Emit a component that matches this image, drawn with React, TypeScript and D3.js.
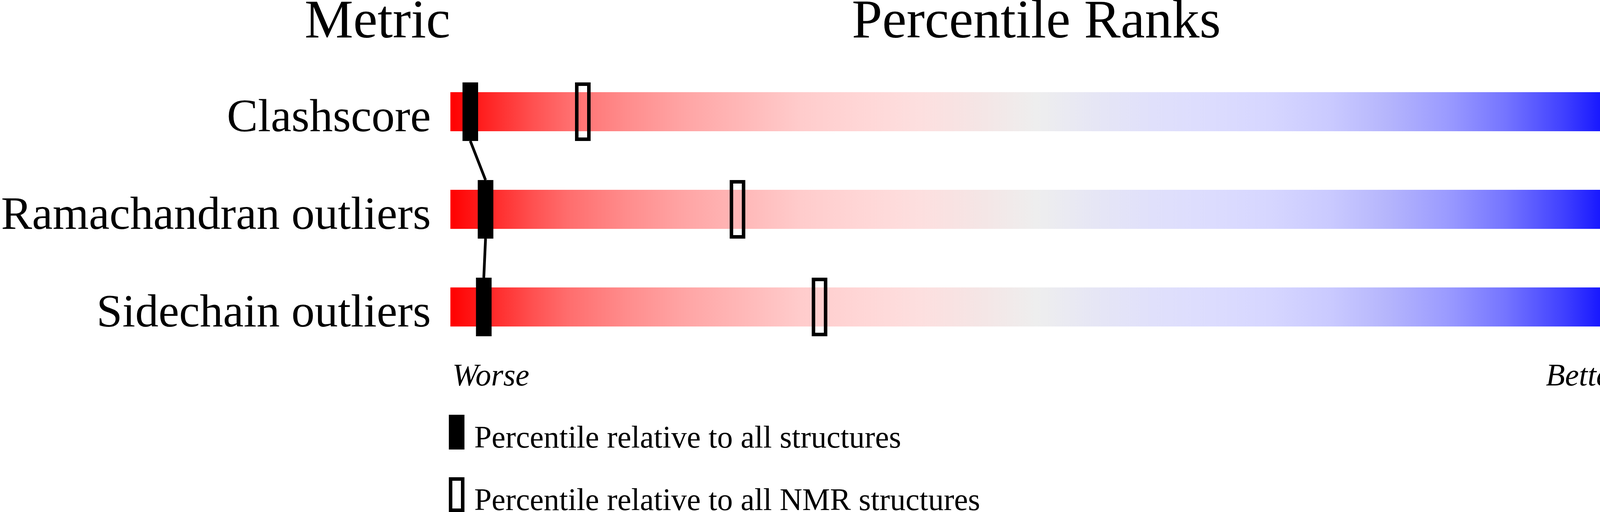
import React, { useEffect, useRef } from 'react';
import * as d3 from 'd3';

// Metrics shown in the slider
const metrics = ['Clashscore', 'Ramachandran outliers', 'Sidechain outliers'];
// Percentile relative to all structures (filled marker)
const percentileAll = [1.7, 3.0, 2.85];
// Percentile relative to all NMR structures (open marker)
const percentileNmr = [11.3, 24.5, 31.5];
// Raw values printed to the right
const valueLabels = ['54', '4.9%', '20.9%'];

const headers = ['Metric', 'Percentile Ranks', 'Value'];
const legendLabels = ['Percentile relative to all structures', 'Percentile relative to all NMR structures'];

// Slider gradient: [offset %, colour]
const gradientStops: Array<[number, string]> = [
  [0, '#ff0000'],
  [3, '#ff2222'],
  [7, '#ff5050'],
  [10, '#ff6d6d'],
  [15, '#ff8c8c'],
  [20, '#ffa5a5'],
  [25, '#ffb8b8'],
  [30, '#ffcccc'],
  [35, '#ffd6d6'],
  [40, '#fddfdf'],
  [45, '#f5e5e5'],
  [50, '#eeeeee'],
  [55, '#e6e6f5'],
  [60, '#e0e0fb'],
  [65, '#dcdcfe'],
  [70, '#d6d6ff'],
  [75, '#cacaff'],
  [80, '#b5b5fc'],
  [85, '#9b9bff'],
  [90, '#7575ff'],
  [95, '#4040ff'],
  [100, '#0000ff'],
];

const W = 4506;
const H = 1311;
const FONT = '"Liberation Serif", "Times New Roman", serif';

const PercentileSlider: React.FC = () => {
  const ref = useRef<SVGSVGElement>(null);

  useEffect(() => {
    if (!ref.current) return;
    const svg = d3.select(ref.current);
    svg.selectAll('*').remove();

    const barLeft = 1153;
    const barRight = 4153;
    const barH = 100;
    const markW = 40;
    const markH = 150;
    const stroke = 9;

    const x = d3.scaleLinear().domain([0, 100]).range([barLeft, barRight]);
    const y = d3.scalePoint<string>().domain(metrics).range([286, 786]);

    const defs = svg.append('defs');
    const grad = defs.append('linearGradient')
      .attr('id', 'slider-grad')
      .attr('x1', '0%').attr('x2', '100%')
      .attr('y1', '0%').attr('y2', '0%');
    gradientStops.forEach(([o, c]) => {
      grad.append('stop').attr('offset', `${o}%`).attr('stop-color', c);
    });

    // headers
    const anchors = ['end', 'middle', 'start'];
    const hx = [barLeft, (barLeft + barRight) / 2, barRight + 3];
    headers.forEach((h, i) => {
      svg.append('text')
        .attr('x', hx[i])
        .attr('y', 96)
        .attr('text-anchor', anchors[i])
        .attr('font-family', FONT)
        .attr('font-size', 140)
        .text(h);
    });

    // bars
    svg.selectAll('.bar')
      .data(metrics)
      .enter()
      .append('rect')
      .attr('class', 'bar')
      .attr('x', x(0))
      .attr('y', d => y(d)! - barH / 2)
      .attr('width', x(100) - x(0))
      .attr('height', barH)
      .attr('fill', 'url(#slider-grad)');

    // metric labels
    svg.selectAll('.label')
      .data(metrics)
      .enter()
      .append('text')
      .attr('class', 'label')
      .attr('x', barLeft - 50)
      .attr('y', d => y(d)! + barH / 2)
      .attr('text-anchor', 'end')
      .attr('font-family', FONT)
      .attr('font-size', 119)
      .text(d => d);

    // value labels
    svg.selectAll('.value')
      .data(metrics)
      .enter()
      .append('text')
      .attr('class', 'value')
      .attr('x', barRight + 47)
      .attr('y', d => y(d)! + barH / 2)
      .attr('font-family', FONT)
      .attr('font-size', 118)
      .text((d, i) => valueLabels[i]);

    // connecting line between filled markers
    const pts: Array<[number, number]> = [];
    metrics.forEach((m, i) => {
      pts.push([x(percentileAll[i]), y(m)! - markH / 2]);
      pts.push([x(percentileAll[i]), y(m)! + markH / 2]);
    });
    for (let i = 0; i < metrics.length - 1; i++) {
      const a = pts[i * 2 + 1];
      const b = pts[i * 2 + 2];
      svg.append('line')
        .attr('x1', a[0]).attr('y1', a[1])
        .attr('x2', b[0]).attr('y2', b[1])
        .attr('stroke', 'black')
        .attr('stroke-width', 7);
    }

    // NMR markers (open)
    metrics.forEach((m, i) => {
      svg.append('rect')
        .attr('x', x(percentileNmr[i]) - markW / 2 + stroke / 2)
        .attr('y', y(m)! - markH / 2 + stroke / 2)
        .attr('width', markW - stroke)
        .attr('height', markH - stroke)
        .attr('fill', 'none')
        .attr('stroke', 'black')
        .attr('stroke-width', stroke);
    });

    // all-structure markers (filled)
    metrics.forEach((m, i) => {
      svg.append('rect')
        .attr('x', x(percentileAll[i]) - markW / 2)
        .attr('y', y(m)! - markH / 2)
        .attr('width', markW)
        .attr('height', markH)
        .attr('fill', 'black');
    });

    // Worse / Better
    svg.append('text')
      .attr('x', x(0) + 5)
      .attr('y', 987)
      .attr('font-family', FONT)
      .attr('font-style', 'italic')
      .attr('font-size', 80)
      .text('Worse');
    svg.append('text')
      .attr('x', x(100))
      .attr('y', 987)
      .attr('text-anchor', 'end')
      .attr('font-family', FONT)
      .attr('font-style', 'italic')
      .attr('font-size', 80)
      .text('Better');

    // legend
    legendLabels.forEach((l, i) => {
      const top = 1062 + i * 160;
      if (i === 0) {
        svg.append('rect')
          .attr('x', 1149).attr('y', top)
          .attr('width', markW).attr('height', 89)
          .attr('fill', 'black');
      } else {
        svg.append('rect')
          .attr('x', 1149 + stroke / 2).attr('y', top + stroke / 2)
          .attr('width', markW - stroke).attr('height', 89 - stroke)
          .attr('fill', 'none')
          .attr('stroke', 'black')
          .attr('stroke-width', stroke);
      }
      svg.append('text')
        .attr('x', 1214)
        .attr('y', top + 84)
        .attr('font-family', FONT)
        .attr('font-size', 80)
        .text(l);
    });
  }, []);

  return <svg ref={ref} width={W} height={H} style={{ display: 'block', background: 'white' }} />;
};

export default function App() {
  return (
    <div style={{ position: 'absolute', left: 0, top: 0, width: W, height: H, background: 'white' }}>
      <PercentileSlider />
    </div>
  );
}
